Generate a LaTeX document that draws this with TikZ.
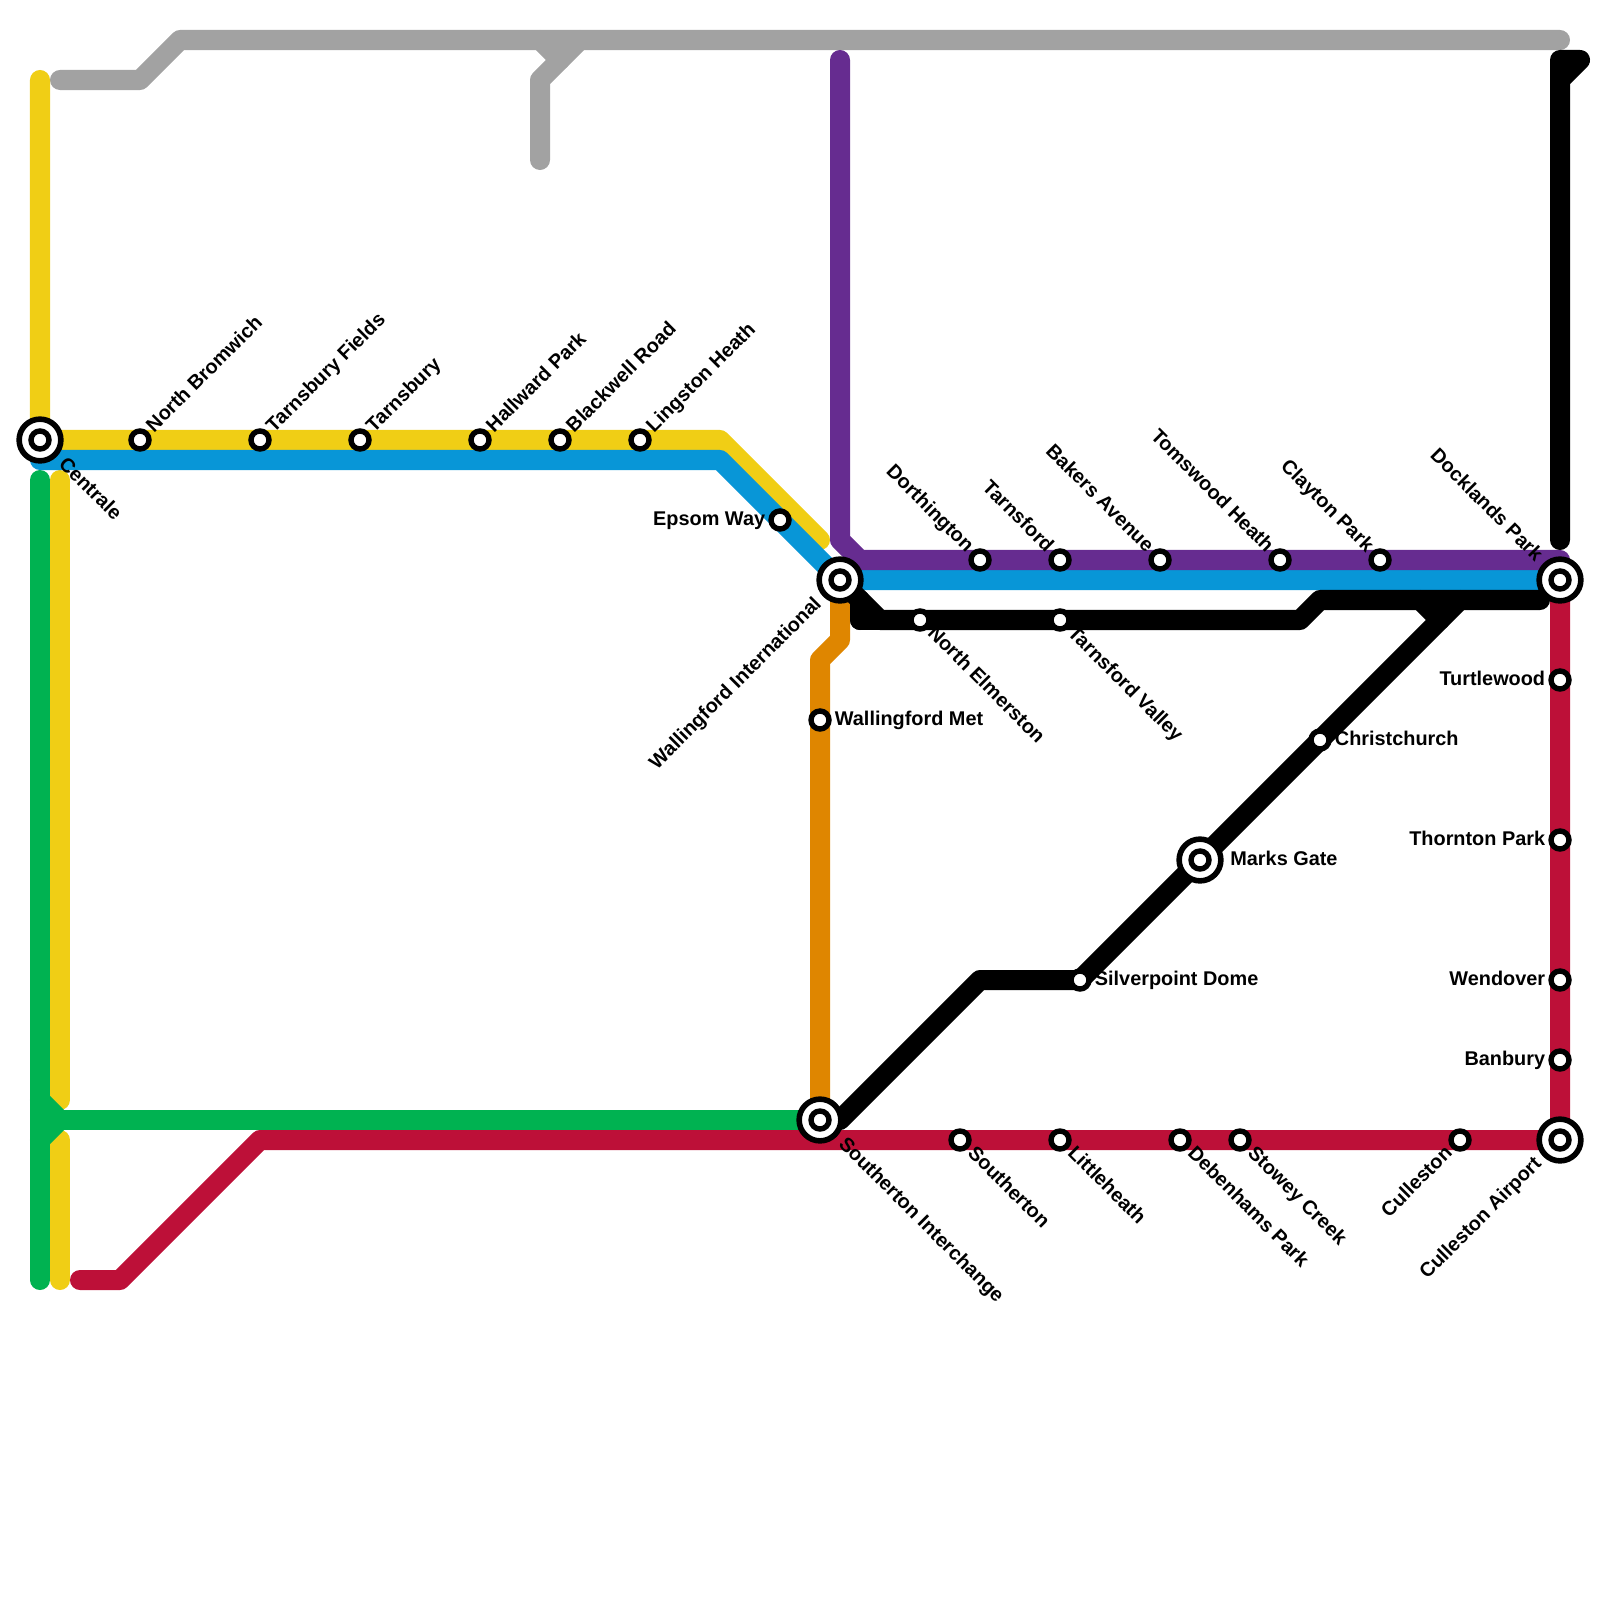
\documentclass[tikz,border=0pt]{standalone}
\usepackage{fontspec}
\setmainfont{Liberation Sans}
\usepackage{xcolor}
\definecolor{lyellow}{HTML}{F0CE15}
\definecolor{lblue}{HTML}{0896D7}
\definecolor{lpurple}{HTML}{662C90}
\definecolor{lgreen}{HTML}{00B251}
\definecolor{lred}{HTML}{BD1038}
\definecolor{lorange}{HTML}{DF8600}
\definecolor{lgray}{HTML}{A2A2A2}
\usetikzlibrary{backgrounds}

\begin{document}
\begin{tikzpicture}[
  x=0.01cm,y=-0.01cm,
  route/.style={line width=0.2cm,line cap=round,line join=round},
  stn/.style={circle,draw=black,fill=white,line width=0.054cm,minimum size=0.18cm,inner sep=0pt},
  xchg/.style={circle,draw=black,fill=white,line width=0.056cm,minimum size=0.417cm,inner sep=0pt},
  lbl/.style={font=\fontsize{5.65}{6.5}\selectfont\bfseries,text height=0.145cm,text depth=0.042cm,inner sep=0.025cm},
  lbig/.style={inner sep=0.06cm},
  lur/.style={lbl,rotate=45,anchor=west},
  ldr/.style={lbl,rotate=-45,anchor=west},
  lul/.style={lbl,rotate=-45,anchor=east},
  ldl/.style={lbl,rotate=45,anchor=east},
  ll/.style={lbl,anchor=east},
  lr/.style={lbl,anchor=west}
]
  \useasboundingbox (0,0) rectangle (1600,1600);

  % Interchanges
  \node[xchg] (centrale) at (40,440) {};
  \node[stn] (centraleIn) at (centrale) {};
  \node[xchg] (wallintl) at (840,580) {};
  \node[stn] (wallintlIn) at (wallintl) {};
  \node[xchg] (docklands) at (1560,580) {};
  \node[stn] (docklandsIn) at (docklands) {};
  \node[xchg] (marksgate) at (1200,860) {};
  \node[stn] (marksgateIn) at (marksgate) {};
  \node[xchg] (southint) at (820,1120) {};
  \node[stn] (southintIn) at (southint) {};
  \node[xchg] (cullairport) at (1560,1140) {};
  \node[stn] (cullairportIn) at (cullairport) {};

  % Stations
  \node[stn] (nbromwich) at (140,440) {};
  \node[stn] (tfields) at (260,440) {};
  \node[stn] (tarnsbury) at (360,440) {};
  \node[stn] (hallward) at (480,440) {};
  \node[stn] (blackwell) at (560,440) {};
  \node[stn] (lingston) at (640,440) {};
  \node[stn] (epsom) at (780,520) {};
  \node[stn] (wallmet) at (820,720) {};
  \node[stn] (dorthington) at (980,560) {};
  \node[stn] (tarnsford) at (1060,560) {};
  \node[stn] (bakers) at (1160,560) {};
  \node[stn] (tomswood) at (1280,560) {};
  \node[stn] (clayton) at (1380,560) {};
  \node[stn] (nelmerston) at (920,620) {};
  \node[stn] (tvalley) at (1060,620) {};
  \node[stn] (turtlewood) at (1560,680) {};
  \node[stn] (christchurch) at (1320,740) {};
  \node[stn] (thornton) at (1560,840) {};
  \node[stn] (silverpoint) at (1080,980) {};
  \node[stn] (wendover) at (1560,980) {};
  \node[stn] (banbury) at (1560,1060) {};
  \node[stn] (southerton) at (960,1140) {};
  \node[stn] (littleheath) at (1060,1140) {};
  \node[stn] (debenhams) at (1180,1140) {};
  \node[stn] (stowey) at (1240,1140) {};
  \node[stn] (culleston) at (1460,1140) {};

  % Bends and line ends
  \coordinate (gstart) at (60,80);
  \coordinate (gbend) at (140,80);
  \coordinate (gtop) at (180,40);
  \coordinate (gend) at (1560,40);
  \coordinate (gspura) at (540,40);
  \coordinate (gspurb) at (560,60);
  \coordinate (gspurc) at (580,40);
  \coordinate (gspurd) at (540,80);
  \coordinate (gspure) at (540,160);
  \coordinate (ytop) at (40,80);
  \coordinate (ybend) at (720,440);
  \coordinate (yend) at (820,540);
  \coordinate (yvtop) at (60,480);
  \coordinate (yvmid) at (60,1100);
  \coordinate (yvlow) at (60,1140);
  \coordinate (yvend) at (60,1280);
  \coordinate (bstart) at (40,460);
  \coordinate (bbend) at (720,460);
  \coordinate (vtop) at (40,480);
  \coordinate (vend) at (40,1280);
  \coordinate (vspura) at (40,1100);
  \coordinate (vspurb) at (60,1120);
  \coordinate (vspurc) at (40,1140);
  \coordinate (ptop) at (840,60);
  \coordinate (pbenda) at (840,540);
  \coordinate (pbendb) at (860,560);
  \coordinate (pend) at (1560,560);
  \coordinate (obenda) at (840,640);
  \coordinate (obendb) at (820,660);
  \coordinate (kcorner) at (860,620);
  \coordinate (kupper) at (860,600);
  \coordinate (klower) at (880,620);
  \coordinate (kbenda) at (1300,620);
  \coordinate (kbendb) at (1320,600);
  \coordinate (kend) at (1540,600);
  \coordinate (kspura) at (1420,600);
  \coordinate (kspurb) at (1440,620);
  \coordinate (kjoin) at (1460,600);
  \coordinate (kstart) at (840,1120);
  \coordinate (kdiag) at (980,980);
  \coordinate (kvbot) at (1560,540);
  \coordinate (kvtop) at (1560,60);
  \coordinate (kvhook) at (1580,60);
  \coordinate (kvlow) at (1560,80);
  \coordinate (rstart) at (80,1280);
  \coordinate (rbenda) at (120,1280);
  \coordinate (rbendb) at (260,1140);

  % Lines
  \begin{scope}[on background layer]
    \draw[route,lgray] (gstart) -- (gbend) -- (gtop) -- (gend);
    \draw[route,lgray] (gspura) -- (gspurb) -- (gspurc);
    \draw[route,lgray] (gspurb) -- (gspurd) -- (gspure);
    \draw[route,lyellow] (ytop) -- (centrale.center) -- (lingston.center) -- (ybend) -- (yend);
    \draw[route,lyellow] (yvtop) -- (yvmid);
    \draw[route,lyellow] (yvlow) -- (yvend);
    \draw[route,lgreen] (vtop) -- (vend);
    \draw[route,lgreen] (vspura) -- (vspurb) -- (vspurc);
    \draw[route,lgreen] (vspurb) -- (southint.center);
    \draw[route,lorange] (wallintl.center) -- (obenda) -- (obendb) -- (southint.center);
    \draw[route,lblue] (bstart) -- (bbend) -- (wallintl.center) -- (docklands.center);
    \draw[route,lpurple] (ptop) -- (pbenda) -- (pbendb) -- (pend);
    \draw[route,black] (wallintl.center) -- (kupper);
    \draw[route,black] (kcorner) -- (kupper) -- (klower) -- (kbenda) -- (kbendb) -- (kend);
    \draw[route,black] (kcorner) -- (klower);
    \draw[route,black] (kspura) -- (kspurb);
    \draw[route,black] (kstart) -- (kdiag) -- (silverpoint.center) -- (kjoin);
    \draw[route,black] (kvbot) -- (kvtop) -- (kvhook) -- (kvlow);
    \draw[route,lred] (rstart) -- (rbenda) -- (rbendb) -- (cullairport.center) -- (docklands.center);
  \end{scope}

  % Labels
  \node[ldr,lbig] (lcentrale) at (centrale.-45) {Centrale};
  \node[lur] (lnbromwich) at (nbromwich.45) {North Bromwich};
  \node[lur] (ltfields) at (tfields.45) {Tarnsbury Fields};
  \node[lur] (ltarnsbury) at (tarnsbury.45) {Tarnsbury};
  \node[lur] (lhallward) at (hallward.45) {Hallward Park};
  \node[lur] (lblackwell) at (blackwell.45) {Blackwell Road};
  \node[lur] (llingston) at (lingston.45) {Lingston Heath};
  \node[ll] (lepsom) at (epsom.west) {Epsom Way};
  \node[ldl,lbig] (lwallintl) at (wallintl.225) {Wallingford International};
  \node[lr] (lwallmet) at (wallmet.east) {Wallingford Met};
  \node[lul] (ldorthington) at (dorthington.135) {Dorthington};
  \node[lul] (ltarnsford) at (tarnsford.135) {Tarnsford};
  \node[lul] (lbakers) at (bakers.135) {Bakers Avenue};
  \node[lul] (ltomswood) at (tomswood.135) {Tomswood Heath};
  \node[lul] (lclayton) at (clayton.135) {Clayton Park};
  \node[lul,lbig] (ldocklands) at (docklands.135) {Docklands Park};
  \node[ldr] (lnelmerston) at (nelmerston.-45) {North Elmerston};
  \node[ldr] (ltvalley) at (tvalley.-45) {Tarnsford Valley};
  \node[ll] (lturtlewood) at (turtlewood.west) {Turtlewood};
  \node[lr] (lchristchurch) at (christchurch.east) {Christchurch};
  \node[ll] (lthornton) at (thornton.west) {Thornton Park};
  \node[lr,lbig] (lmarksgate) at (marksgate.east) {Marks Gate};
  \node[lr] (lsilverpoint) at (silverpoint.east) {Silverpoint Dome};
  \node[ll] (lwendover) at (wendover.west) {Wendover};
  \node[ll] (lbanbury) at (banbury.west) {Banbury};
  \node[ldr,lbig] (lsouthint) at (southint.-45) {Southerton Interchange};
  \node[ldr] (lsoutherton) at (southerton.-45) {Southerton};
  \node[ldr] (llittleheath) at (littleheath.-45) {Littleheath};
  \node[ldr] (ldebenhams) at (debenhams.-45) {Debenhams Park};
  \node[ldr] (lstowey) at (stowey.-45) {Stowey Creek};
  \node[ldl] (lculleston) at (culleston.225) {Culleston};
  \node[ldl,lbig] (lcullairport) at (cullairport.225) {Culleston Airport};
\end{tikzpicture}
\end{document}
